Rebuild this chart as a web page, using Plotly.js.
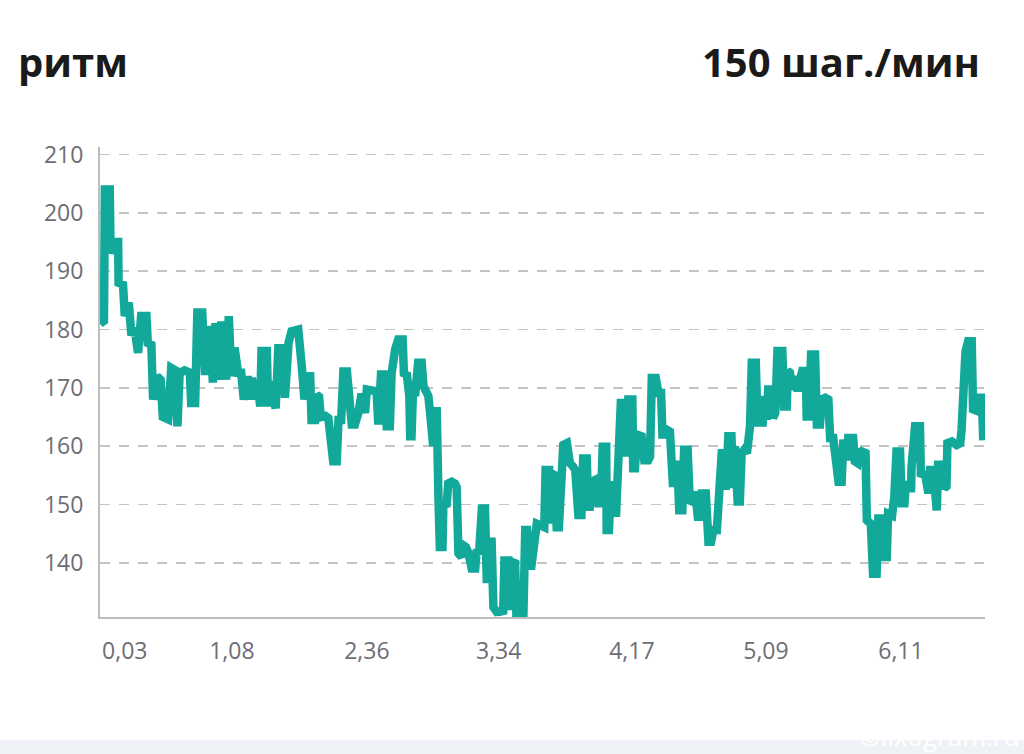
<!DOCTYPE html>
<html>
<head>
<meta charset="utf-8">
<script src="https://cdn.plot.ly/plotly-3.0.1.min.js"></script>
<style>
  html, body { margin: 0; padding: 0; background: #ffffff; }
  #chart { width: 1024px; height: 754px; }
</style>
</head>
<body>
<div id="chart"></div>
<script>
// sample index along the run
const sampleIdx = [
  0,0.9,1.1,2.2,2.4,2.9,4.1,4.2,5.2,5.6,
  6.5,7.1,7.8,8.6,9.3,10.5,10.8,11.6,12.0,12.9,
  13.7,14.2,15.4,16.1,17.0,17.5,18.0,19.1,20.3,20.6,
  21.5,22.0,23.1,23.7,24.4,25.0,25.5,26.1,26.8,27.4,
  28.5,29.1,29.7,30.4,31.2,31.9,32.5,33.4,
  33.9,34.3,35.0,35.6,36.2,36.5,37.7,38.0,38.4,39.2,
  39.7,40.3,41.4,41.8,42.2,42.6,43.3,44.1,44.8,45.6,
  46.2,46.7,47.5,47.8,48.6,49.0,49.5,49.9,50.9,51.6,
  52.2,52.7,53.5,53.9,54.5,55.0,55.8,56.1,56.9,57.6,
  58.4,59.1,59.9,60.3,61.2,61.8,62.5,62.9,63.5,64.4,
  64.8,65.5,65.9,
  66.7,67.4,68.4,68.7,69.3,69.9,70.1,70.4,70.8,71.2,
  71.9,72.7,73.1,73.7,74.2,74.6,75.0,75.3,75.7,76.1,
  76.5,76.8,77.4,77.6,78.3,78.7,79.5,80.2,80.6,81.0,
  81.7,82.1,82.7,83.2,84.0,84.8,85.1,85.7,86.3,87.0,
  87.4,87.7,88.0,88.5,88.9,89.3,90.0,90.4,91.1,91.4,
  92.3,92.5,92.8,93.0,93.8,94.2,94.9,95.3,95.6,96.1,
  96.5,97.0,97.5,
  98.7,99.8,100.4,100.7,101.5,101.7,102.1,102.8,103.2,103.7,
  104.2,104.7,105.5,106.2,106.9,107.4,108.1,108.8,109.2,110.0,
  110.3,110.7,111.1,111.9,112.6,113.2,113.6,114.4,114.5,115.0,
  115.5,116.2,116.6,117.1,117.7,118.7,119.0,119.4,120.3,120.5,
  120.9,121.3,122.0,122.4,123.0,123.9,124.3,124.7,125.6,126.2,
  126.8,127.1,127.7,128.1,128.8,129.2,129.5,129.9,130.5,130.9,
  131.6,132.0,132.8,133.3,
  133.7,134.5,135.1,135.6,136.0,136.9,137.5,138.1,138.6,139.4,
  139.7,140.5,141.1,141.4,142.0,142.7,143.1,143.5,144.1,144.6,
  145.0,145.6,146.2,146.9,147.3,148.2,148.6,149.2,149.7,150.3,
  150.7,151.0,151.8,152.1,152.6,153.1,154.2,154.6,155.2,155.4,
  155.9,156.5,157.1,157.7,158.2,158.7,159.5,159.7,160.2,160.7,
  161.6,162.0,162.7,163.1,163.9,164.6,165.0,165.7,
  166.9,167.6,168.0,168.8,169.1,170.2,170.6,171.2,171.5,172.1,
  173.0,173.3,174.2,174.7,175.5,175.9,176.6,177.0,177.8,178.1,
  179.0,179.5,180.0,180.8,181.2,181.8,182.1,182.7,183.3,183.4,
  184.2,185.3,185.5,186.5,187.2,187.6,188.3,188.7,189.1,189.4,
  190.3,190.8,191.3,191.5,192.5,193.6,194.4,194.7,195.1,195.6,
  196.2,197.0,197.3,198.3,198.7,199.3,199.6
];

// cadence, steps per minute
const cadence = [
  181,181.5,204,204,193,195,195,188,187.7,182.3,
  184.6,179,180.3,176,182.3,182.3,177.7,177.4,168,172,
  171.4,165,164.6,173.4,173,163.4,172.6,173,172.6,167.4,
  167.4,182.9,182.9,172.9,172.9,180.6,170.9,181.1,171.4,181.4,
  171.4,182.3,172,176.9,172.6,172.6,168,172,
  168,171.7,168,171.4,166.8,176.3,176.3,166.8,171.1,166.8,
  166.5,176.8,176.8,168.3,173.7,177.7,179.7,180,180,173.7,
  168,172,172,164.5,164.5,168.8,168.5,165,165.2,164.8,
  161,157.4,157.4,164.5,164.5,172.8,172.8,168.5,163.7,163.7,
  165.7,169,165.7,169.7,169.7,169.4,169.4,163.7,172.3,172.3,
  163.4,163.4,172.5,
  176.6,178.3,178.3,172,172.6,168.6,161.7,161.7,171.1,168.6,
  174.3,174.3,170.3,169,168.6,165.7,160,160,166,166,
  150.7,142.7,142.7,150.2,149.6,153.6,153.9,153.6,153,141.6,
  141,143,142.7,141.8,139,139,141.8,142,149.3,149.3,
  137.2,137.2,143.6,143.6,132.4,132.1,131.2,132.1,131.2,140.4,
  140.4,132.6,132.6,139.8,140.4,128,128,133,128,145.6,
  145.6,139.5,139.5,
  146.7,146.1,146.1,155.9,155.9,146.7,155.3,155,146.1,146.1,
  155,160.2,160.5,157.1,156.5,155.9,148.2,148.2,157.9,157.9,
  149.6,149.6,153.9,154.2,150.2,150.2,159.9,159.9,145.6,145.6,
  153.3,153.3,147.9,157.6,167.4,167.4,158.2,168,168,156.2,
  156.2,162,162,161.7,157.6,157.6,158.2,171.7,171.7,169.1,
  169.1,162,162,162.8,162.5,153,153,156.8,156.8,149,
  149,159.4,159.4,150.2,
  150.5,152.2,147.9,147.9,151.9,151.9,143.6,143.6,145.6,145.6,
  151.3,158.8,158.8,152.5,161.7,161.7,152.8,160,150.5,150.5,
  158.8,159.4,158.8,163.4,174.3,174.3,163.4,168.6,163.4,168.6,
  164.5,169.7,169.7,164.8,165.7,176.3,176.3,166.8,166.8,172.9,
  172.6,169.7,172,169.4,171.4,172.9,172.9,165.1,165.1,175.7,
  175.7,163.7,163.7,168,168.3,168,161.4,161.4,
  153.9,153.9,161.1,157.6,161.4,161.4,157.4,157.1,158.8,159.1,
  158.8,147.3,146.7,138.1,138.1,147.6,147.6,141,141,148.4,
  148.1,151.3,159.1,159.1,150.2,150.2,153.9,152.8,152.8,156.5,
  163.4,163.4,155.3,155.1,151.9,155.9,155.9,149,149,156.8,
  156.8,152.8,153.1,160.5,160.8,160.2,160.5,162.8,168.6,176.3,
  178,178,166.3,166,168.3,168.3,161
];

// x tick positions (sample index) and their labels
const xTickVals = [5.6, 29.8, 60.3, 90.1, 120.2, 150.5, 181.0];
const xTickText = ['0,03', '1,08', '2,36', '3,34', '4,17', '5,09', '6,11'];
const yTickVals = [140, 150, 160, 170, 180, 190, 200, 210];

const titleLeft = 'ритм';
const titleRight = '150 шаг./мин';
const watermark = '©lixogram.ru';

const trace = {
  x: sampleIdx,
  y: cadence,
  type: 'scatter',
  mode: 'lines',
  line: { color: '#12a89a', width: 8.5, shape: 'linear' },
  hoverinfo: 'skip'
};

const tickFont = { family: 'Open Sans, Noto Sans, sans-serif', size: 23, color: '#6d6d76' };

const layout = {
  width: 1024,
  height: 754,
  margin: { l: 100, r: 39, t: 147, b: 137, pad: 0 },
  paper_bgcolor: '#ffffff',
  plot_bgcolor: '#ffffff',
  showlegend: false,
  xaxis: {
    range: [0, 200],
    showgrid: false,
    zeroline: false,
    showline: true,
    linecolor: '#bdbdbd',
    linewidth: 2,
    tickmode: 'array',
    tickvals: xTickVals,
    ticktext: xTickText,
    ticks: '',
    ticklabelstandoff: 12,
    tickfont: tickFont,
    fixedrange: true
  },
  yaxis: {
    range: [130.7, 211.3],
    showgrid: true,
    gridcolor: '#c4c4c4',
    gridwidth: 1.5,
    griddash: '10px,9px',
    zeroline: false,
    showline: true,
    linecolor: '#bdbdbd',
    linewidth: 2,
    tickmode: 'array',
    tickvals: yTickVals,
    ticktext: yTickVals.map(String),
    ticks: '',
    ticklabelstandoff: 10,
    tickfont: tickFont,
    fixedrange: true
  },
  annotations: [
    {
      text: '<b>' + titleLeft + '</b>',
      xref: 'paper', yref: 'paper',
      x: (16 - 100) / 885, y: (617 - 61) / 470,
      xanchor: 'left', yanchor: 'middle',
      showarrow: false,
      font: { family: 'Open Sans, Noto Sans, sans-serif', size: 40, color: '#1a1a1a' }
    },
    {
      text: '<b>' + titleRight + '</b>',
      xref: 'paper', yref: 'paper',
      x: (982 - 100) / 885, y: (617 - 61) / 470,
      xanchor: 'right', yanchor: 'middle',
      showarrow: false,
      font: { family: 'Open Sans, Noto Sans, sans-serif', size: 40, color: '#1a1a1a' }
    },
    {
      text: watermark,
      xref: 'paper', yref: 'paper',
      x: (1022 - 100) / 885, y: (617 - 736) / 470,
      xanchor: 'right', yanchor: 'middle',
      showarrow: false,
      font: { family: 'Open Sans, Noto Sans, sans-serif', size: 26, color: '#ffffff' }
    }
  ],
  shapes: [
    {
      type: 'rect', xref: 'paper', yref: 'paper', layer: 'below',
      x0: -100 / 885, x1: 924 / 885,
      y0: (617 - 740) / 470, y1: (617 - 760) / 470,
      fillcolor: '#eef1f5', line: { width: 0 }
    }
  ]
};

Plotly.newPlot('chart', [trace], layout, { displayModeBar: false, staticPlot: true });
</script>
</body>
</html>
